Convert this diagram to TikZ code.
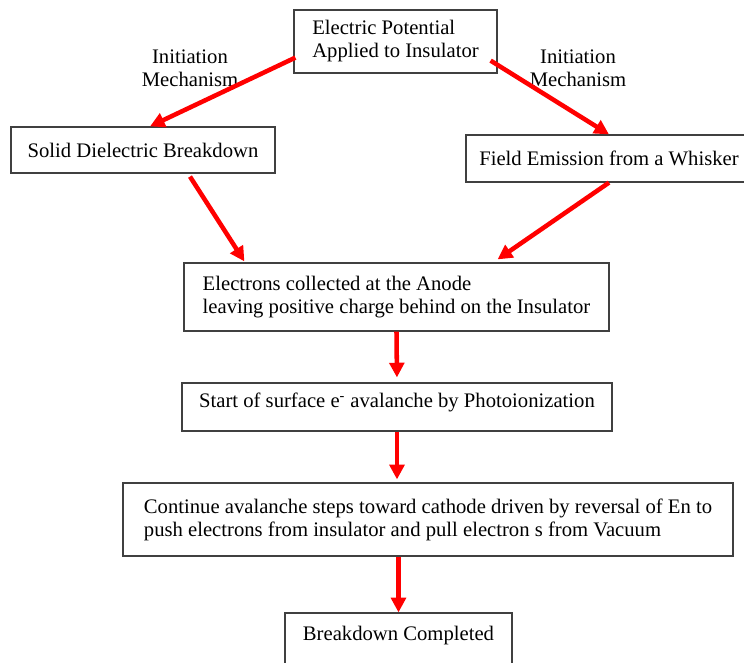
\documentclass[tikz,border=0pt]{standalone}
\usepackage{fontspec}
\setmainfont{Liberation Serif}
\usetikzlibrary{arrows.meta,calc}
\tikzset{
	box/.style={draw=black!75,line width=.9pt,inner sep=0pt,align=left},
	arr/.style={-{Triangle[length=11pt,width=11pt]},red,line width=3.4pt},
}
\begin{document}
\begin{tikzpicture}[x=.75pt,y=-.75pt,font=\fontsize{15.5}{17.25}\selectfont]
	\useasboundingbox(0,0)rectangle(744,662);
	\clip(0,0)rectangle(744,662);
	\node[box,minimum width=152.25pt,minimum height=47.25pt](pot)at(395.5,41.5){Electric Potential\\Applied to Insulator};
	\node[box,minimum width=198pt,minimum height=34.5pt](solid)at(143,150){Solid Dielectric Breakdown};
	\node[box,minimum width=214.5pt,minimum height=35.25pt](field)at(609,158.5){Field Emission from a Whisker};
	\node[box,minimum width=318.75pt,minimum height=51pt](elec)at(396.5,297){Electrons collected at the Anode\\leaving positive charge behind on the Insulator};
	\node[box,minimum width=322.5pt,text height=18pt,text depth=18pt](start)at(397,407){Start of surface e\textsuperscript{-} avalanche by Photoionization};
	\node[box,minimum width=457.5pt,minimum height=54.75pt](cont)at(428,519.5){Continue avalanche steps toward cathode driven by reversal of En to\\push electrons from insulator and pull electron s from Vacuum};
	\node[box,minimum width=170.25pt,text height=20.25pt,text depth=30pt](brk)at(398.5,646.5){Breakdown Completed};
	\node[align=center](mechL)at(190,68){Initiation\\Mechanism};
	\node[align=center](mechR)at(578,68){Initiation\\Mechanism};
	\draw[arr]($(pot.south west)+(2,-16)$)--($(solid.north)+(7,0)$);
	\draw[arr]($(pot.south east)+(-7,-13)$)--(field.north);
	\draw[arr]($(solid.south)+(47,3)$)--($(elec.north west)+(61,-1)$);
	\draw[arr](field.south)--($(elec.north east)+(-112,-3)$);
	\draw[arr,shorten >=3.75pt](elec.south)--(start.north);
	\draw[arr,shorten >=2.25pt](start.south)--(start.south|-cont.north);
	\draw[arr](brk.north|-cont.south)--(brk.north);
\end{tikzpicture}
\end{document}
